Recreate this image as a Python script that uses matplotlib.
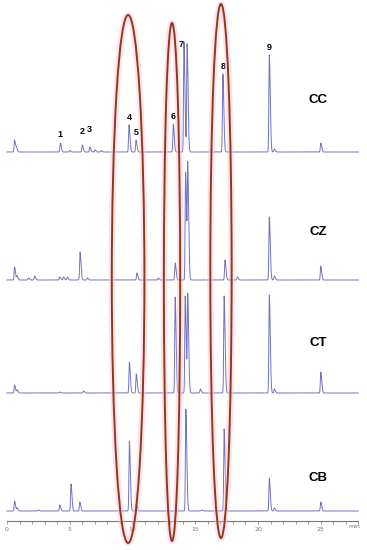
import numpy as np
import matplotlib.pyplot as plt
from matplotlib.patches import Ellipse

# Peak tables (retention time / min, height / px)
cc_times = [0.6, 0.75, 4.25, 5.0, 6.0, 6.6, 7.0, 7.5, 9.72, 10.28, 13.25, 14.1, 14.35, 17.2, 20.9, 21.3, 25.0]
cc_heights = [12, 4, 9, 1.5, 7, 5, 2, 1.5, 27, 12, 28, 110, 108, 78, 97, 3, 9]

cz_times = [0.6, 0.8, 1.7, 2.2, 4.2, 4.5, 4.8, 5.82, 6.4, 10.35, 12.05, 13.4, 14.23, 14.4, 17.37, 18.35, 20.9, 21.3, 25.0]
cz_heights = [13, 4, 2, 4, 3, 3, 3, 28, 2, 7, 2, 17, 108, 110, 20, 3, 63, 4, 14]

ct_times = [0.6, 0.8, 4.2, 6.1, 9.75, 10.3, 13.4, 14.2, 14.4, 15.4, 17.3, 20.9, 21.3, 25.0]
ct_heights = [8, 3, 1, 2, 31, 19, 96, 97, 97, 4, 97, 98, 4, 21]

cb_times = [0.6, 0.8, 2.5, 4.2, 5.1, 5.8, 9.75, 10.3, 14.25, 15.5, 17.3, 20.9, 21.3, 25.0]
cb_heights = [10, 3, 1, 6, 27, 9, 70, 7, 102, 1, 82, 33, 3, 9]

samples = ["CC", "CZ", "CT", "CB"]
peak_labels = ["1", "2", "3", "4", "5", "6", "7", "8", "9"]
peak_label_times = [4.25, 6.0, 6.6, 9.72, 10.28, 13.25, 13.85, 17.2, 20.9]
highlight_times = [9.65, 13.15, 17.05]

# layout (pixel units, y measured from top)
baselines = [152, 280, 393, 511]
name_lift = [52, 48, 50, 33]
label_lift = [4, 9, 13, 3, 3, 3, -7, 3, 3]
px_per_min = 12.55

line_col = "#7373c2"
t = np.arange(0, 28.0, 0.004)


def trace(times, heights):
    y = np.zeros_like(t)
    for tr, h in zip(times, heights):
        sig = np.where(t < tr, 0.035, 0.075)
        y += h * np.exp(-0.5 * ((t - tr) / sig) ** 2)
    return y


fig = plt.figure(figsize=(3.67, 5.5), dpi=100)
ax = fig.add_axes([0, 29 / 550, 1, 521 / 550])
ax.set_xlim(-7 / px_per_min, 360 / px_per_min)
ax.set_ylim(521, 0)

series = [(cc_times, cc_heights), (cz_times, cz_heights),
          (ct_times, ct_heights), (cb_times, cb_heights)]
for (times, heights), base, name, lift in zip(series, baselines, samples, name_lift):
    sig = trace(times, heights)
    ax.plot(t, base - sig, color=line_col, lw=0.7)
    ax.text(24.8, base - lift, name, fontsize=9.5, fontweight="bold",
            ha="center", va="center", family="Liberation Sans")

# peak numbers on the CC trace
cc_sig = trace(cc_times, cc_heights)
for lab, tl, lift in zip(peak_labels, peak_label_times, label_lift):
    top = baselines[0] - np.interp(tl, t, cc_sig) if lab != "7" else baselines[0] - max(cc_heights)
    ax.text(tl, top - lift, lab, fontsize=6.5, fontweight="bold",
            ha="center", va="bottom", family="Liberation Sans")

# highlight ellipses
ell_w = [2.6, 1.3, 1.7]
ell_top = [15, 23, 4]
ell_bot = [543, 541, 538]
for x0, w, y0, y1 in zip(highlight_times, ell_w, ell_top, ell_bot):
    for lw, col, a in [(4.5, "#ffc4d8", 0.5), (1.4, "#8a3b1c", 1.0)]:
        ax.add_patch(Ellipse((x0, (y0 + y1) / 2), w, y1 - y0, fill=False,
                             lw=lw, edgecolor=col, alpha=a, clip_on=False, zorder=5))

# time axis
for s in ["top", "left", "right"]:
    ax.spines[s].set_visible(False)
ax.spines["bottom"].set_bounds(0, 28)
ax.spines["bottom"].set_color("#777777")
ax.spines["bottom"].set_linewidth(0.8)
ax.set_xticks([0, 5, 10, 15, 20, 25])
ax.set_xticks(np.arange(0, 29, 1), minor=True)
ax.tick_params(axis="x", which="both", direction="out", length=2, width=0.5,
               colors="#777777", labelsize=4.5, pad=2)
ax.set_yticks([])
ax.text(27.65, 527, "min", fontsize=4.5, color="#777777", ha="center", va="center")

fig.savefig("out.png", dpi=100)
